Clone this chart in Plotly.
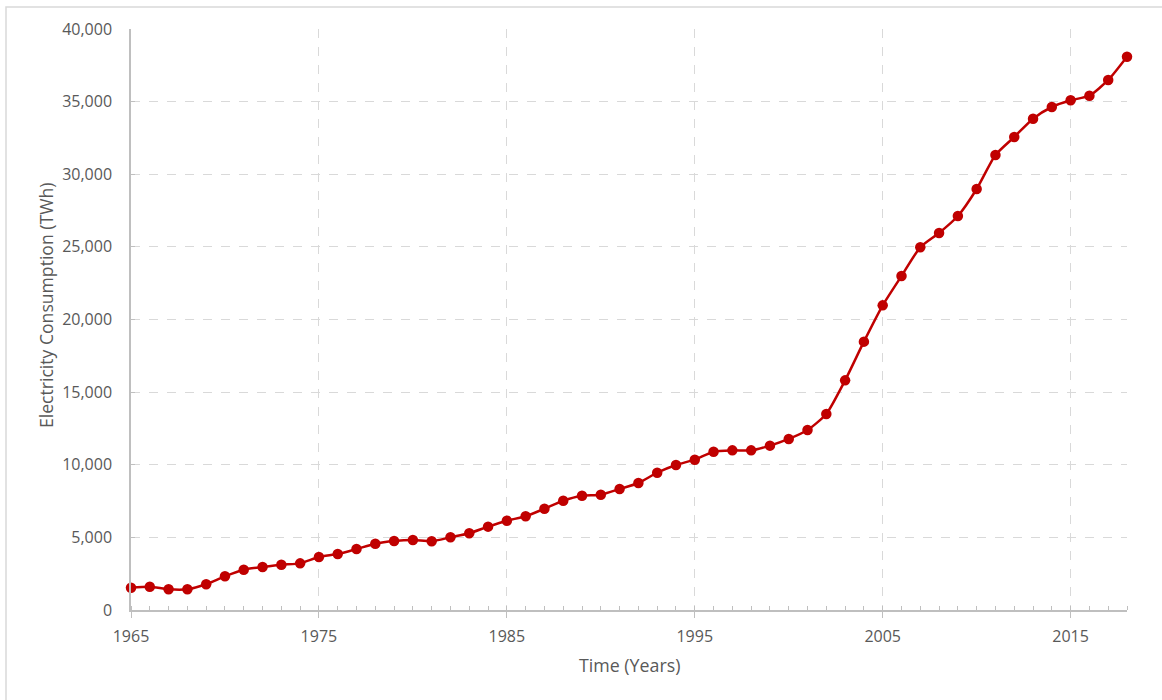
import plotly.graph_objects as go

# Annual electricity consumption, 1965-2018
years = list(range(1965, 2019))
consumption_twh = [
    1535, 1605, 1425, 1425, 1770, 2320, 2775, 2960, 3120, 3210,
    3650, 3855, 4200, 4565, 4750, 4820, 4730, 5005, 5280, 5740,
    6150, 6450, 6975, 7525, 7870, 7940, 8330, 8745, 9455, 9985,
    10350, 10900, 10990, 10990, 11315, 11775, 12390, 13495, 15810, 18475,
    20975, 22995, 24970, 25955, 27125, 28985, 31325, 32565, 33825, 34630,
    35090, 35410, 36490, 38095,
]
x_tickvals = [1965, 1975, 1985, 1995, 2005, 2015]
y_tickvals = [0, 5000, 10000, 15000, 20000, 25000, 30000, 35000, 40000]
y_ticktext = ["0", "5,000", "10,000", "15,000", "20,000", "25,000", "30,000", "35,000", "40,000"]
x_title = "Time (Years)"
y_title = "Electricity Consumption (TWh)"

RED = "#C00000"
GREY_TXT = "#595959"
GRID = "#D9D9D9"
AXIS = "#BFBFBF"
FONT = "Open Sans"

W, H = 1162, 700
L, R, T, B = 131, 35, 29, 90
pw, ph = W - L - R, H - T - B


def px_to_paper(px, py):
    """Convert page pixel position to paper coordinates of the plot area."""
    return (px - L) / pw, (H - B - py) / ph


fig = go.Figure()
fig.add_trace(go.Scatter(
    x=years, y=consumption_twh,
    mode="lines+markers",
    line=dict(color=RED, width=2.5, shape="spline", smoothing=0.6),
    marker=dict(color=RED, size=10.5),
    cliponaxis=False,
    showlegend=False,
))

# light frame around the chart area
fx0, fy1 = px_to_paper(6, 7)
fx1, fy0 = px_to_paper(W + 10, H + 10)
fig.add_shape(
    type="rect", xref="paper", yref="paper",
    x0=fx0, x1=fx1, y0=fy0, y1=fy1,
    line=dict(color="#D9D9D9", width=1.5), fillcolor="rgba(0,0,0,0)",
    layer="below",
)

# axis titles
tx, ty = px_to_paper(629.5, 665)
fig.add_annotation(text=x_title, xref="paper", yref="paper", x=tx, y=ty,
                   xanchor="center", yanchor="middle", showarrow=False,
                   font=dict(size=17.8, color=GREY_TXT, family=FONT))
tx, ty = px_to_paper(46, 306)
fig.add_annotation(text=y_title, xref="paper", yref="paper", x=tx, y=ty,
                   xanchor="center", yanchor="middle", showarrow=False, textangle=-90,
                   font=dict(size=17.6, color=GREY_TXT, family=FONT))

fig.update_layout(
    width=W, height=H,
    margin=dict(l=L, r=R, t=T, b=B),
    paper_bgcolor="white", plot_bgcolor="white",
    font=dict(family=FONT, color=GREY_TXT, size=16),
    xaxis=dict(
        range=[1965, 2018],
        tickvals=x_tickvals,
        ticks="outside", ticklen=6, tickcolor=AXIS, tickwidth=1,
        showgrid=True, gridcolor=GRID, griddash="dash", gridwidth=1,
        showline=True, linecolor=AXIS, linewidth=1.5,
        zeroline=False,
        minor=dict(dtick=1, ticks="inside", ticklen=4, tickcolor=AXIS, showgrid=False),
        tickfont=dict(size=16, color=GREY_TXT),
        ticklabelstandoff=5,
    ),
    yaxis=dict(
        range=[0, 40000],
        tickvals=y_tickvals, ticktext=y_ticktext,
        ticks="inside", ticklen=4, tickcolor=AXIS,
        showgrid=True, gridcolor=GRID, griddash="dash", gridwidth=1,
        showline=True, linecolor=AXIS, linewidth=1.5,
        zeroline=False,
        tickfont=dict(size=16, color=GREY_TXT),
        ticklabelstandoff=14,
    ),
)

fig.write_html("out.html")
